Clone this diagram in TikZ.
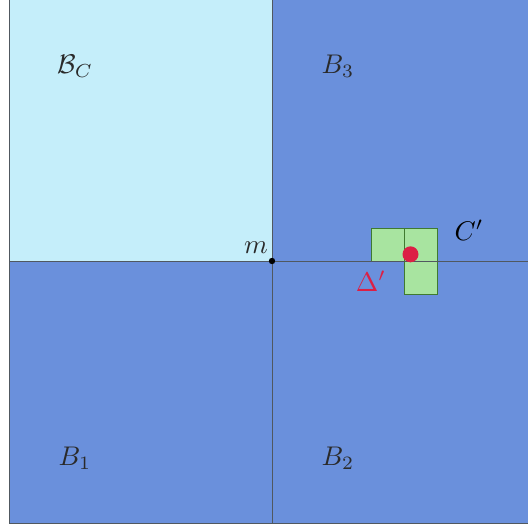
\documentclass[tikz,border=0pt]{standalone}
\usepackage{xcolor}
\definecolor{lightq}{HTML}{C5EEFA}
\definecolor{blueq}{HTML}{6A90DC}
\definecolor{greenc}{HTML}{A8E4A0}
\definecolor{greenb}{HTML}{3F7A30}
\definecolor{redd}{HTML}{DC1F45}
\definecolor{linec}{HTML}{505860}
\definecolor{txt}{HTML}{2A2A2A}
\begin{document}
\begin{tikzpicture}[x=1pt,y=-1pt,
  lbl/.style={text=txt,scale=2.7,inner sep=0pt},
  cell/.style={fill=greenc,draw=greenb,line width=0.9pt},
  grid line/.style={draw=linec,line width=0.8pt}]
\useasboundingbox (0,0) rectangle (528,531);
\begin{scope}
\clip (0,0) rectangle (528,531);
\fill[lightq] (9,-3) rectangle (272,261);
\fill[blueq] (272,-3) rectangle (535,523);
\fill[blueq] (9,261) rectangle (272,523);
\draw[grid line] (9,-3) rectangle (535,523);
\coordinate (mL) at (9,261);
\coordinate (mR) at (535,261);
\coordinate (mT) at (272,-3);
\coordinate (mB) at (272,523);
\draw[grid line] (mT) -- (mB);
\node[cell,minimum size=33pt,inner sep=0pt] (c1) at (387.5,244.5) {};
\node[cell,minimum size=33pt,inner sep=0pt] (c2) at (420.5,244.5) {};
\node[cell,minimum size=33pt,inner sep=0pt] (c3) at (420.5,277.5) {};
\draw[grid line] (mL) -- (mR);
\fill[redd] (410.5,254.3) circle (8pt);
\end{scope}
\fill[black] (272,261) circle (3.2pt);
\node[lbl] (m) at (256,248) {$m$};
\node[lbl] (BC) at (75,66) {$\mathcal{B}_C$};
\node[lbl] (B3) at (338,66) {$B_3$};
\node[lbl] (B1) at (75,458) {$B_1$};
\node[lbl] (B2) at (338,458) {$B_2$};
\node[lbl,text=black] (Cp) at (469,230) {$C'$};
\node[lbl,text=redd] (Dp) at (371,281) {$\Delta'$};
\end{tikzpicture}
\end{document}
